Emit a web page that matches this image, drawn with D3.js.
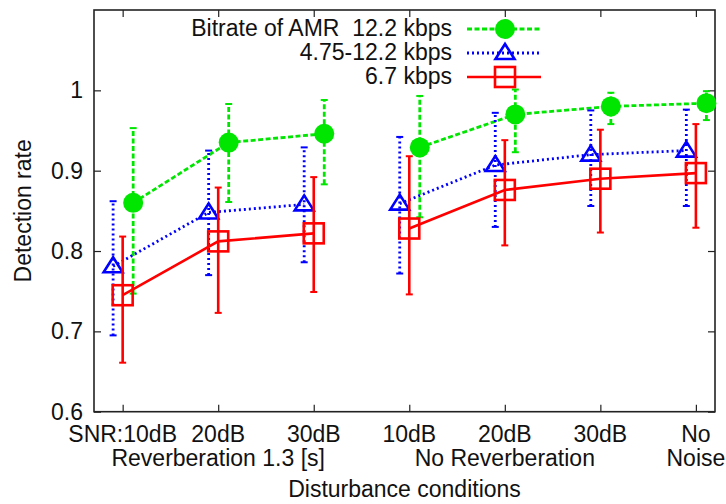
<!DOCTYPE html>
<meta charset="utf-8">
<style>
body { margin: 0; background: #fff; }
text { font-family: "Liberation Sans", Arial, sans-serif; font-size: 23px; fill: #111; white-space: pre; }
.frame { fill: none; stroke: #222; stroke-width: 1.6px; }
.tick line { stroke: #222; stroke-width: 1.2px; }
.domain { display: none; }
</style>
<svg width="726" height="504"></svg>
<script src="https://d3js.org/d3.v7.min.js"></script>
<script>

// conditions along x (1..7), two-line tick labels
var conds = [1, 2, 3, 4, 5, 6, 7];
var tickTop = ["SNR:10dB", "20dB", "30dB", "10dB", "20dB", "30dB", "No"];
var tickBottom = ["", "Reverberation 1.3 [s]", "", "", "No Reverberation", "", "Noise"];
var yTicks = [0.6, 0.7, 0.8, 0.9, 1];

// 12.2 kbps
var rateHi = [0.860, 0.935, 0.946, 0.929, 0.970, 0.980, 0.984];
var rateHiLo = [0.747, 0.861, 0.883, 0.842, 0.923, 0.958, 0.963];
var rateHiUp = [0.953, 0.983, 0.988, 0.993, 1.001, 0.997, 0.999];
// 4.75-12.2 kbps
var rateVar = [0.781, 0.848, 0.858, 0.859, 0.907, 0.920, 0.925];
var rateVarLo = [0.695, 0.770, 0.786, 0.772, 0.830, 0.856, 0.856];
var rateVarUp = [0.862, 0.925, 0.929, 0.942, 0.972, 0.975, 0.976];
// 6.7 kbps
var rateLow = [0.745, 0.812, 0.822, 0.828, 0.876, 0.890, 0.897];
var rateLowLo = [0.661, 0.723, 0.749, 0.746, 0.807, 0.823, 0.829];
var rateLowUp = [0.818, 0.879, 0.892, 0.918, 0.938, 0.951, 0.958];

// the lines break between reverberation and no reverberation
var groups = [[0, 1, 2], [3, 4, 5, 6]];

var svg = d3.select("svg");
var mLeft = 94, mRight = 715, mTop = 10, mBottom = 411.7;

var x = d3.scaleLinear().domain([0.7, 7.2]).range([mLeft, mRight]);
var y = d3.scaleLinear().domain([0.6, 1.1]).range([mBottom, mTop]);

// axes, ticks pointing inward, mirrored
svg.append("g").attr("transform", "translate(0," + mBottom + ")")
    .call(d3.axisBottom(x).tickValues(conds).tickSize(-7).tickFormat(""));
svg.append("g").attr("transform", "translate(0," + mTop + ")")
    .call(d3.axisTop(x).tickValues(conds).tickSize(-7).tickFormat(""));
svg.append("g").attr("transform", "translate(" + mLeft + ",0)")
    .call(d3.axisLeft(y).tickValues(yTicks).tickSize(-7).tickPadding(11).tickFormat(d3.format("")))
  .selectAll("text").attr("fill", "#111");
svg.append("g").attr("transform", "translate(" + mRight + ",0)")
    .call(d3.axisRight(y).tickValues(yTicks).tickSize(-7).tickFormat(""));

svg.append("rect").attr("class", "frame")
    .attr("x", mLeft).attr("y", mTop)
    .attr("width", mRight - mLeft).attr("height", mBottom - mTop);

var xl = svg.append("g");
xl.selectAll("text.t1").data(conds).enter().append("text")
    .attr("x", function(d) { return x(d); })
    .attr("y", 442)
    .attr("text-anchor", "middle")
    .text(function(d, i) { return tickTop[i]; });
xl.selectAll("text.t2").data(conds).enter().append("text")
    .attr("x", function(d) { return x(d); })
    .attr("y", 466)
    .attr("text-anchor", "middle")
    .text(function(d, i) { return tickBottom[i]; });

svg.append("text").attr("x", (mLeft + mRight) / 2).attr("y", 497)
    .attr("text-anchor", "middle").text("Disturbance conditions");
svg.append("text")
    .attr("transform", "translate(31," + ((mTop + mBottom) / 2) + ") rotate(-90)")
    .attr("text-anchor", "middle").text("Detection rate");

var series = [
  { name: "Bitrate of AMR  12.2 kbps", v: rateHi, lo: rateHiLo, up: rateHiUp, dx: 0.11,
    color: "#00e600", dash: "5,2.5", width: 2.8, marker: "circle" },
  { name: "4.75-12.2 kbps", v: rateVar, lo: rateVarLo, up: rateVarUp, dx: -0.1,
    color: "#0000ff", dash: "2,3", width: 2.8, marker: "triangle" },
  { name: "6.7 kbps", v: rateLow, lo: rateLowLo, up: rateLowUp, dx: 0,
    color: "#ff0000", dash: null, width: 2.6, marker: "square" }
];

function marker(g, s, cx, cy) {
  if (s.marker == "circle") {
    g.append("circle").attr("cx", cx).attr("cy", cy).attr("r", 10)
      .attr("fill", s.color);
  } else if (s.marker == "triangle") {
    g.append("path")
      .attr("d", "M" + cx + "," + (cy - 9) + "L" + (cx + 9.5) + "," + (cy + 6) + "L" + (cx - 9.5) + "," + (cy + 6) + "Z")
      .attr("fill", "none").attr("stroke", s.color).attr("stroke-width", 2.6);
  } else {
    g.append("rect").attr("x", cx - 10).attr("y", cy - 10).attr("width", 20).attr("height", 20)
      .attr("fill", "none").attr("stroke", s.color).attr("stroke-width", 2.6);
  }
}

series.forEach(function(s) {
  var g = svg.append("g");
  // error bars
  conds.forEach(function(c, i) {
    var cx = x(c + s.dx);
    g.append("line").attr("x1", cx).attr("x2", cx)
      .attr("y1", y(s.lo[i])).attr("y2", y(s.up[i]))
      .attr("stroke", s.color).attr("stroke-width", s.width)
      .attr("stroke-dasharray", s.dash);
    [s.lo[i], s.up[i]].forEach(function(v) {
      g.append("line").attr("x1", cx - 3.5).attr("x2", cx + 3.5)
        .attr("y1", y(v)).attr("y2", y(v))
        .attr("stroke", s.color).attr("stroke-width", 2);
    });
  });
  groups.forEach(function(idx) {
    g.append("path")
      .attr("d", d3.line()
        .x(function(i) { return x(conds[i] + s.dx); })
        .y(function(i) { return y(s.v[i]); })(idx))
      .attr("fill", "none").attr("stroke", s.color)
      .attr("stroke-width", s.width).attr("stroke-dasharray", s.dash);
  });
  conds.forEach(function(c, i) { marker(g, s, x(c + s.dx), y(s.v[i])); });
});

// legend
var lg = svg.append("g");
series.forEach(function(s, k) {
  var cy = 29 + k * 24;
  lg.append("text").attr("x", 452).attr("y", cy + 7).attr("text-anchor", "end").text(s.name);
  lg.append("line").attr("x1", 467).attr("x2", 541).attr("y1", cy).attr("y2", cy)
    .attr("stroke", s.color).attr("stroke-width", s.width).attr("stroke-dasharray", s.dash);
  marker(lg, s, 505, cy);
});

</script>
